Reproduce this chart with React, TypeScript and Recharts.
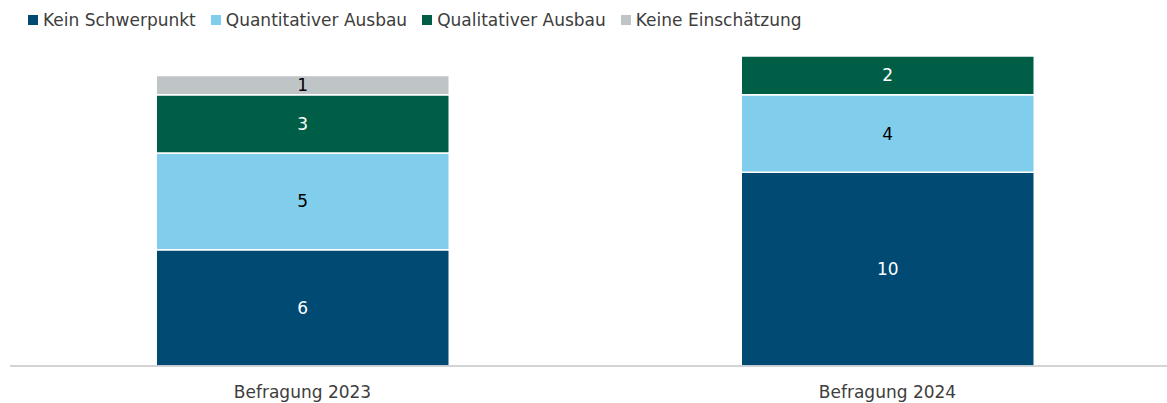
import { Bar, BarChart, LabelList, XAxis, YAxis } from 'recharts';

const categories = ['Befragung 2023', 'Befragung 2024'];
const keinSchwerpunkt = [6, 10];
const quantitativ = [5, 4];
const qualitativ = [3, 2];
const keineEinschaetzung = [1, 0];

const SERIES = [
  { key: 'kein', name: 'Kein Schwerpunkt', color: '#004a73', label: '#ffffff' },
  { key: 'quant', name: 'Quantitativer Ausbau', color: '#80ceec', label: '#000000' },
  { key: 'qual', name: 'Qualitativer Ausbau', color: '#005e46', label: '#ffffff' },
  { key: 'keine', name: 'Keine Einschätzung', color: '#bfc4c7', label: '#000000' }
];

const data = categories.map((name, i) => ({
  name,
  kein: keinSchwerpunkt[i],
  quant: quantitativ[i],
  qual: qualitativ[i],
  keine: keineEinschaetzung[i]
}));

const FONT = '"DejaVu Sans", sans-serif';
const TEXT = '#3d3d3d';

// legend sits above the plot, outside recharts so it doesn't eat plot height
function LegendRow() {
  return (
    <div
      style={{
        position: 'absolute',
        left: 28,
        top: 10,
        display: 'flex',
        alignItems: 'center',
        fontFamily: FONT,
        fontSize: 17,
        color: TEXT,
        whiteSpace: 'nowrap'
      }}
    >
      {SERIES.map((s) => (
        <div key={s.key} style={{ display: 'flex', alignItems: 'center', marginRight: 15 }}>
          <span style={{ width: 10, height: 10, background: s.color, marginRight: 5, display: 'inline-block' }} />
          <span>{s.name}</span>
        </div>
      ))}
    </div>
  );
}

const hideZero = (v: any) => (v ? v : '');

export default function App() {
  return (
    <div style={{ position: 'absolute', left: 0, top: 0, width: 1167, height: 403, overflow: 'hidden', background: '#fff' }}>
      <LegendRow />
      <BarChart
        width={1180}
        height={403}
        data={data}
        margin={{ top: 56, right: 0, left: 10, bottom: 0 }}
        barCategoryGap="25%"
      >
        <XAxis
          dataKey="name"
          height={37}
          tickLine={false}
          axisLine={{ stroke: '#c4c6c8', strokeWidth: 1.5 }}
          tickMargin={14}
          tick={{ fill: TEXT, fontSize: 17, fontFamily: FONT }}
        />
        <YAxis hide domain={[0, 16]} />
        {SERIES.map((s) => (
          <Bar
            key={s.key}
            dataKey={s.key}
            name={s.name}
            stackId="a"
            fill={s.color}
            stroke="#ffffff"
            strokeWidth={1.5}
            isAnimationActive={false}
          >
            <LabelList
              dataKey={s.key}
              position="center"
              formatter={hideZero}
              style={{ fill: s.label, fontSize: 17, fontFamily: FONT }}
            />
          </Bar>
        ))}
      </BarChart>
    </div>
  );
}
